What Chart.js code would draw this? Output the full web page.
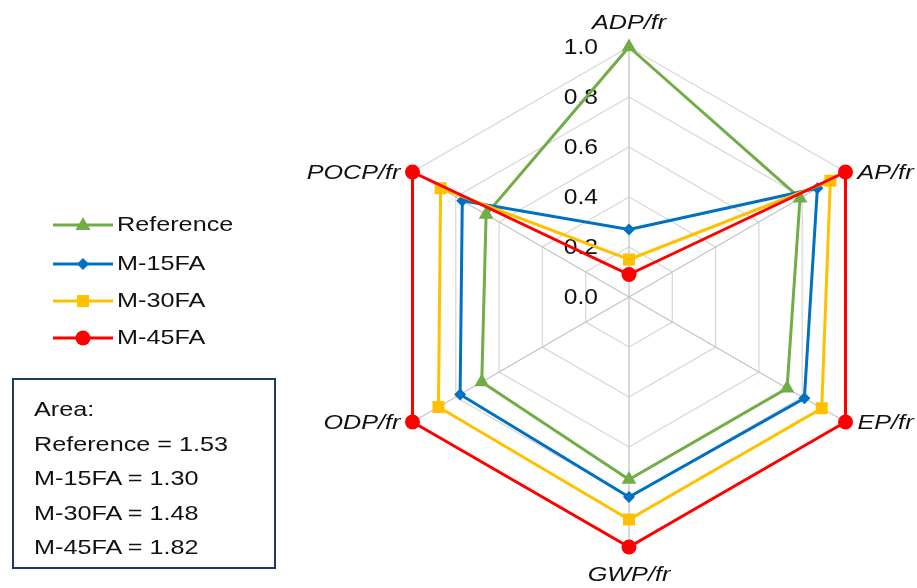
<!DOCTYPE html>
<html lang="en">
<head>
<meta charset="UTF-8">
<title>Normalised impact indicators</title>
<script src="https://cdn.jsdelivr.net/npm/chart.js"></script>
<style>
    body {
        margin: 0;
        background: #fff;
        font-family: Arial, "Liberation Sans", sans-serif;
        color: #111;
    }
    #wrap {
        position: relative;
        width: 917px;
        height: 588px;
        overflow: hidden;
    }
    #chart {
        position: absolute;
        left: 0;
        top: 0;
    }
    .legend-item {
        position: absolute;
        left: 53px;
        height: 30px;
        line-height: 30px;
        white-space: nowrap;
        font-size: 21px;
    }
    .legend-item svg {
        vertical-align: middle;
    }
    .stretch {
        display: inline-block;
        transform: scaleX(1.2);
        transform-origin: left center;
    }
    #areaBox {
        position: absolute;
        left: 12px;
        top: 378px;
        width: 264px;
        height: 191px;
        box-sizing: border-box;
        border: 2.5px solid #1F3864;
        padding: 12px 0 0 20px;
        font-size: 21px;
        line-height: 34.5px;
        white-space: nowrap;
    }
</style>
</head>
<body>
<div id="wrap">
    <canvas id="chart" width="917" height="588"></canvas>
    <div id="legend"></div>
    <div id="areaBox"></div>
</div>

<script>
    // axes (clockwise from the top) and tick labels
    const axisLabels = ["ADP/fr", "AP/fr", "EP/fr", "GWP/fr", "ODP/fr", "POCP/fr"];
    const tickLabels = ["0.0", "0.2", "0.4", "0.6", "0.8", "1.0"];

    // series values
    const seriesNames = ["Reference", "M-15FA", "M-30FA", "M-45FA"];
    const referenceVals = [1.00, 0.79, 0.73, 0.73, 0.68, 0.66];
    const m15Vals = [0.27, 0.87, 0.81, 0.80, 0.78, 0.77];
    const m30Vals = [0.15, 0.93, 0.89, 0.89, 0.88, 0.87];
    const m45Vals = [0.09, 1.00, 1.00, 1.00, 1.00, 1.00];

    // polygon areas printed in the box
    const areaValues = [1.53, 1.30, 1.48, 1.82];

    const seriesVals = [referenceVals, m15Vals, m30Vals, m45Vals];
    const colors = ["#70AD47", "#0070C0", "#FFC000", "#FF0000"];
    const markers = ["triangle", "rectRot", "rect", "circle"];
    const markerSizes = [8.5, 6, 8.5, 7.5];

    const STRETCH = 1.2;

    // tick labels left of the vertical axis and Excel-like point labels
    const labelPlugin = {
        id: "excelLabels",
        beforeDatasetsDraw(chart) {
            const r = chart.scales.r;
            const ctx = chart.ctx;
            ctx.save();
            ctx.fillStyle = "#111";

            ctx.font = '22px Arial, "Liberation Sans", sans-serif';
            ctx.textAlign = "right";
            ctx.textBaseline = "middle";
            r.ticks.forEach((t, i) => {
                const y = r.yCenter - r.getDistanceFromCenterForValue(t.value);
                ctx.save();
                ctx.translate(r.xCenter - 31, y + 1);
                ctx.scale(1.12, 1);
                ctx.fillText(tickLabels[i], 0, 0);
                ctx.restore();
            });

            ctx.font = 'italic 21px Arial, "Liberation Sans", sans-serif';
            axisLabels.forEach((lab, i) => {
                const p = r.getPointPosition(i, r.drawingArea);
                const dx = p.x - r.xCenter;
                const dy = p.y - r.yCenter;
                let x = p.x, y = p.y, align = "center";
                if (Math.abs(dx) < 1) {
                    y += dy < 0 ? -25 : 27;
                } else if (dx > 0) {
                    x += 12;
                    align = "left";
                } else {
                    x -= 12;
                    align = "right";
                }
                ctx.textAlign = align;
                ctx.save();
                ctx.translate(x, y + 1);
                ctx.scale(STRETCH, 1);
                ctx.fillText(lab, 0, 0);
                ctx.restore();
            });
            ctx.restore();
        }
    };

    new Chart(document.getElementById("chart"), {
        type: "radar",
        data: {
            labels: axisLabels,
            datasets: seriesNames.map((name, i) => ({
                label: name,
                data: seriesVals[i],
                borderColor: colors[i],
                backgroundColor: colors[i],
                borderWidth: 3,
                fill: false,
                pointStyle: markers[i],
                pointRadius: markerSizes[i],
                pointBackgroundColor: colors[i],
                pointBorderColor: colors[i],
                pointBorderWidth: 0,
                order: seriesNames.length - i,
                clip: false
            }))
        },
        options: {
            responsive: false,
            animation: false,
            layout: {
                padding: { left: 379, right: 38, top: 47, bottom: 41 }
            },
            plugins: {
                legend: { display: false },
                tooltip: { enabled: false }
            },
            scales: {
                r: {
                    min: 0,
                    max: 1,
                    ticks: { stepSize: 0.2, display: false },
                    pointLabels: { display: false },
                    grid: { color: "#d9d9d9", lineWidth: 1.3 },
                    angleLines: { color: "#c4c4c4", lineWidth: 1.3 }
                }
            }
        },
        plugins: [labelPlugin]
    });

    // legend: line with the series marker
    function markerSvg(style, color) {
        let shape = "";
        if (style === "triangle") shape = `<polygon points="30,7 37.5,20 22.5,20" fill="${color}"/>`;
        if (style === "rectRot") shape = `<polygon points="30,9 36,15 30,21 24,15" fill="${color}"/>`;
        if (style === "rect") shape = `<rect x="24" y="9" width="12" height="12" fill="${color}"/>`;
        if (style === "circle") shape = `<circle cx="30" cy="15" r="7.5" fill="${color}"/>`;
        return `<svg width="62" height="30"><line x1="0" y1="15" x2="60" y2="15" stroke="${color}" stroke-width="3"/>${shape}</svg>`;
    }

    const legendTops = [224, 263, 300, 337];
    let legendHtml = "";
    seriesNames.forEach((name, i) => {
        legendHtml += `<div class="legend-item" style="top:${legendTops[i] - 15}px">` +
            markerSvg(markers[i], colors[i]) +
            `<span class="stretch" style="margin-left:2px">${name}</span></div>`;
    });
    document.getElementById("legend").innerHTML = legendHtml;

    let boxHtml = `<div><span class="stretch">Area:</span></div>`;
    seriesNames.forEach((name, i) => {
        boxHtml += `<div><span class="stretch">${name} = ${areaValues[i].toFixed(2)}</span></div>`;
    });
    document.getElementById("areaBox").innerHTML = boxHtml;
</script>
</body>
</html>
